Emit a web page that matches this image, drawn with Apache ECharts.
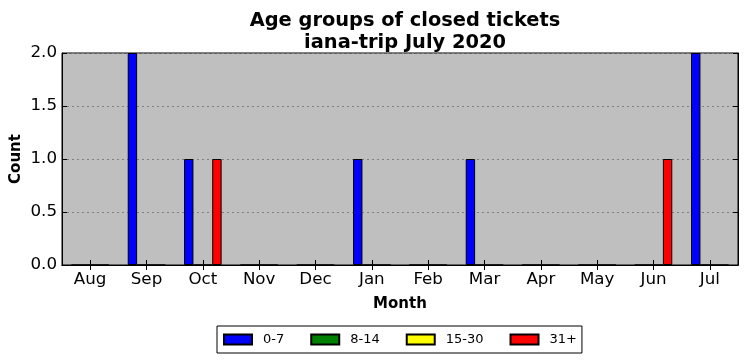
<!DOCTYPE html>
<html>
<head>
<meta charset="utf-8">
<script src="https://cdn.jsdelivr.net/npm/echarts@6/dist/echarts.min.js"></script>
<style>html,body{margin:0;padding:0;background:#fff}#c{width:747px;height:361px}</style>
</head>
<body>
<div id="c"></div>
<script>
const months = ['Aug','Sep','Oct','Nov','Dec','Jan','Feb','Mar','Apr','May','Jun','Jul'];
const seriesNames = ['0-7','8-14','15-30','31+'];
const seriesColors = ['#0000ff','#008000','#ffff00','#ff0000'];
const age0_7   = [0,2,1,0,0,1,0,1,0,0,0,2];
const age8_14  = [0,0,0,0,0,0,0,0,0,0,0,0];
const age15_30 = [0,0,0,0,0,0,0,0,0,0,0,0];
const age31p   = [0,0,1,0,0,0,0,0,0,0,1,0];
const yTicks = [0,0.5,1.0,1.5,2.0];
const titleText = 'Age groups of closed tickets\niana-trip July 2020';

const FONT = 'DejaVu Sans';
const allData = [age0_7, age8_14, age15_30, age31p];
const chart = echarts.init(document.getElementById('c'), null, {renderer:'canvas'});
const axisLineStyle = {color:'#000', width:1};
chart.setOption({
  animation:false,
  backgroundColor:'#ffffff',
  title:{
    text:titleText, left:400, top:5, textAlign:'center',
    textStyle:{fontFamily:FONT, fontWeight:'bold', fontSize:19.4, lineHeight:22, color:'#000'}
  },
  legend:{
    data:seriesNames, left:217, top:326, orient:'horizontal',
    padding:[7,5,7,6], borderColor:'#000', borderWidth:1, backgroundColor:'#fff', borderRadius:0,
    itemWidth:28, itemHeight:10, itemGap:26, icon:'rect',
    textStyle:{fontFamily:FONT, fontSize:13, color:'#000', padding:[0,0,0,6]}
  },
  grid:{left:62, right:9, top:53, bottom:96, show:true, backgroundColor:'#bfbfbf', borderColor:'#000', borderWidth:1, containLabel:false, outerBoundsMode:'none'},
  xAxis:[{
    type:'category', data:months, position:'bottom',
    name:'Month', nameLocation:'middle', nameGap:32, nameMoveOverlap:false,
    nameTextStyle:{fontFamily:FONT, fontWeight:'bold', fontSize:15, color:'#000'},
    axisLine:{show:true, lineStyle:axisLineStyle},
    axisTick:{show:true, inside:true, length:5, alignWithLabel:true, lineStyle:axisLineStyle},
    axisLabel:{fontFamily:FONT, fontSize:16.7, color:'#000', margin:6},
    splitLine:{show:false}
  },{
    type:'category', data:months, position:'top',
    axisLine:{show:true, lineStyle:axisLineStyle},
    axisTick:{show:true, inside:true, length:5, alignWithLabel:true, lineStyle:axisLineStyle},
    axisLabel:{show:false}, splitLine:{show:false}
  }],
  yAxis:[{
    type:'value', min:0, max:2, interval:0.5, position:'left',
    name:'Count', nameLocation:'middle', nameGap:38, nameRotate:90, nameMoveOverlap:false,
    nameTextStyle:{fontFamily:FONT, fontWeight:'bold', fontSize:15, color:'#000'},
    axisLine:{show:true, lineStyle:axisLineStyle},
    axisTick:{show:true, inside:true, length:5, lineStyle:axisLineStyle},
    axisLabel:{fontFamily:FONT, fontSize:16.7, color:'#000', margin:5, formatter:v=>v.toFixed(1)},
    splitLine:{show:true, lineStyle:{color:'#7f7f7f', type:[2,3], width:1}}
  },{
    type:'value', min:0, max:2, interval:0.5, position:'right',
    axisLine:{show:true, lineStyle:axisLineStyle},
    axisTick:{show:true, inside:true, length:5, lineStyle:axisLineStyle},
    axisLabel:{show:false}, splitLine:{show:false}
  }],
  series: seriesNames.map((n,i)=>({
    name:n, type:'bar', data:allData[i], xAxisIndex:0, yAxisIndex:0,
    barGap:'0%', barCategoryGap:'33.33%',
    itemStyle:{color:seriesColors[i], borderColor:'#000', borderWidth:1}
  }))
});
</script>
</body>
</html>
